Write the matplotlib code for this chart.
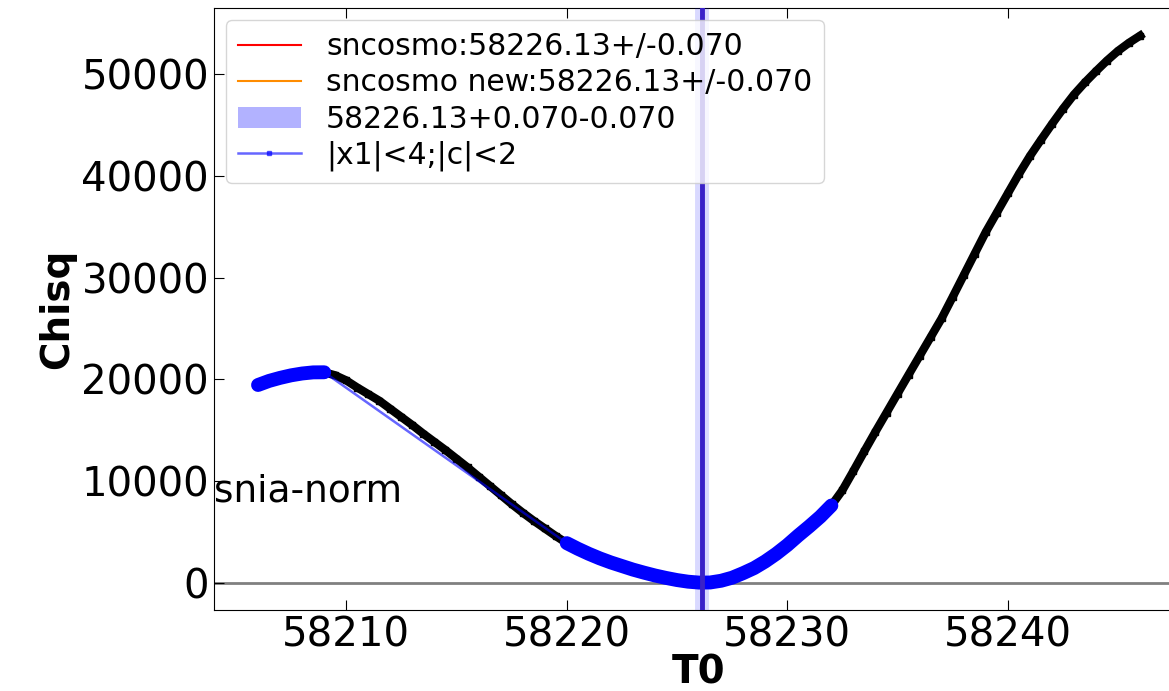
import numpy as np
import matplotlib.pyplot as plt

# chisq scan over T0 (0.5 day step)
t0 = np.arange(58206.0, 58246.01, 0.5)
chisq = np.array([
    19450, 19850, 20150, 20400, 20580, 20690, 20700, 20400, 19900, 19200,
    18550, 17900, 17100, 16300, 15500, 14650, 13850, 13050, 12200, 11350,
    10450, 9550, 8650, 7750, 6900, 6100, 5350, 4600, 3900, 3350,
    2850, 2400, 2000, 1650, 1300, 1000, 720, 480, 270, 110,
    20, 30, 200, 500, 950, 1450, 2100, 2850, 3700, 4650,
    5550, 6500, 7600, 9100, 11000, 12950, 14860, 16720, 18590, 20450,
    22300, 24150, 26000, 28100, 30230, 32360, 34480, 36380, 38280, 40170,
    41940, 43540, 45100, 46600, 48000, 49200, 50300, 51350, 52300, 53100,
    53800,
])
# points passing the |x1|<4 ; |c|<2 cut
good = (t0 <= 58209.0) | ((t0 >= 58220.0) & (t0 <= 58232.0))

t0_fit = 58226.13
t0_err = 0.070

fig = plt.figure(figsize=(11.69, 6.91), dpi=100)
ax = fig.add_axes([0.183, 0.117, 0.830, 0.871])

# fitted T0
ax.axvline(t0_fit, color='red', lw=1.5, label='sncosmo:%.2f+/-%.3f' % (t0_fit, t0_err))
ax.axvline(t0_fit, color='darkorange', lw=1.5, label='sncosmo new:%.2f+/-%.3f' % (t0_fit, t0_err))
ax.axvspan(t0_fit - t0_err, t0_fit + t0_err, color='b', alpha=0.3, lw=0,
           label='%.2f+%.3f-%.3f' % (t0_fit, t0_err, t0_err))
ax.axvline(t0_fit, color='b', alpha=0.15, lw=10, zorder=5)
ax.axvline(t0_fit, color='#3a22c8', lw=3.5, zorder=5)

ax.axhline(0, color='gray', lw=2, zorder=1)

# full scan in black
ax.plot(t0, chisq, color='k', lw=6, marker='s', ms=5, zorder=2)

# thick blue bands for the points passing the cut
idx = np.where(good)[0]
segs = np.split(idx, np.where(np.diff(idx) > 1)[0] + 1)
for s in segs:
    ax.plot(t0[s], chisq[s], color='b', lw=10, solid_capstyle='round', zorder=3)
ax.plot(t0[good], chisq[good], color='b', alpha=0.6, lw=1.8, marker='s', ms=3,
        mfc='b', mec='b', label='|x1|<4;|c|<2', zorder=4)

ax.text(0.0, 8000, 'snia-norm', fontsize=27, transform=ax.get_yaxis_transform(),
        va='baseline', ha='left')

ax.set_xlabel('T0', fontsize=28, fontweight='bold', labelpad=-1)
ax.set_ylabel('Chisq', fontsize=28, fontweight='bold', labelpad=4)
ax.tick_params(direction='in', top=True, right=True, labelsize=29, length=7)
ax.set_xticks([58210, 58220, 58230, 58240])

ax.legend(loc='upper left', fontsize=21.5, labelspacing=0.24, handlelength=2.1,
          handletextpad=0.85, borderaxespad=0.4, framealpha=0.8)

fig.savefig('out.png', dpi=100)
